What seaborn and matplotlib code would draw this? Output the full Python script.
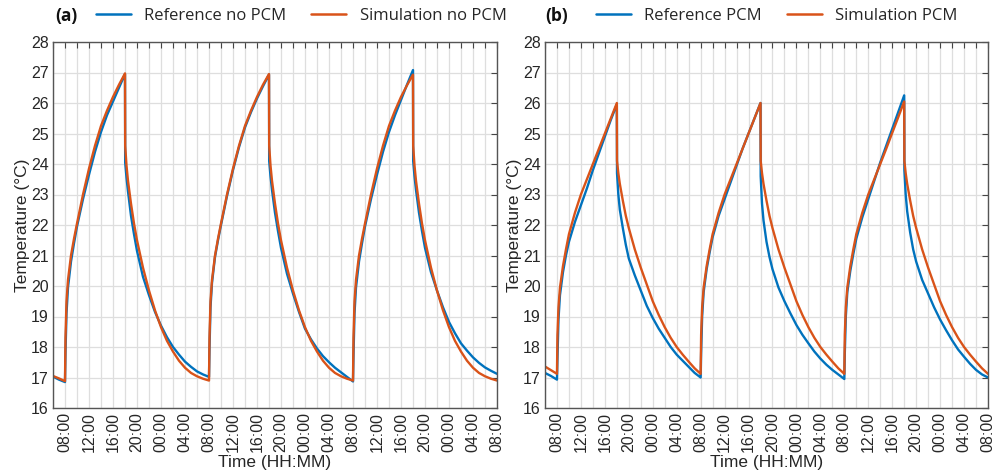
import matplotlib
matplotlib.use("Agg")
import matplotlib.pyplot as plt
import seaborn as sns
import pandas as pd
from matplotlib.ticker import MultipleLocator, FuncFormatter
from matplotlib.lines import Line2D

# hours since 06:00 of day 1
TIME_H = [0, 1, 2,
          2.08, 2.25, 2.5, 3, 3.5, 4, 5, 6, 7, 8, 9, 10, 11, 12,
          12.03, 12.25, 12.5, 13, 13.5, 14, 15, 16, 17, 18, 19, 20, 21, 22, 23, 24, 25, 26,
          26.08, 26.25, 26.5, 27, 27.5, 28, 29, 30, 31, 32, 33, 34, 35, 36,
          36.03, 36.25, 36.5, 37, 37.5, 38, 39, 40, 41, 42, 43, 44, 45, 46, 47, 48, 49, 50,
          50.08, 50.25, 50.5, 51, 51.5, 52, 53, 54, 55, 56, 57, 58, 59, 60,
          60.03, 60.25, 60.5, 61, 61.5, 62, 63, 64, 65, 66, 67, 68, 69, 70, 71, 72, 73, 74]

# (a) no PCM
REF_NO_PCM = [17.03, 16.93, 16.85,
              17.8, 19.1, 19.95, 20.8, 21.4, 21.95, 22.85, 23.65, 24.4, 25.05, 25.6, 26.05, 26.5, 26.95,
              24.05, 23.55, 23.1, 22.3, 21.7, 21.15, 20.3, 19.7, 19.15, 18.7, 18.32, 18.0, 17.75, 17.52, 17.35, 17.2, 17.1, 17.02,
              17.9, 19.3, 20.1, 20.95, 21.5, 22.0, 22.95, 23.8, 24.55, 25.2, 25.7, 26.15, 26.55, 26.93,
              24.1, 23.6, 23.15, 22.4, 21.8, 21.25, 20.4, 19.75, 19.15, 18.6, 18.25, 17.95, 17.7, 17.5, 17.32, 17.17, 17.02, 16.87,
              17.7, 19.1, 19.95, 20.8, 21.4, 21.95, 22.85, 23.65, 24.4, 25.05, 25.6, 26.1, 26.6, 27.08,
              24.1, 23.6, 23.15, 22.4, 21.8, 21.25, 20.45, 19.85, 19.3, 18.82, 18.45, 18.12, 17.88, 17.66, 17.48, 17.33, 17.22, 17.12]
SIM_NO_PCM = [17.05, 16.97, 16.88,
              18.3, 19.5, 20.2, 21.0, 21.55, 22.05, 23.0, 23.85, 24.6, 25.25, 25.75, 26.2, 26.6, 26.97,
              24.6, 23.95, 23.45, 22.7, 22.05, 21.5, 20.6, 19.85, 19.2, 18.65, 18.2, 17.85, 17.55, 17.32, 17.15, 17.04, 16.96, 16.9,
              18.3, 19.5, 20.2, 21.0, 21.55, 22.05, 23.0, 23.85, 24.6, 25.25, 25.75, 26.2, 26.6, 26.95,
              24.6, 23.95, 23.45, 22.7, 22.05, 21.5, 20.6, 19.85, 19.2, 18.65, 18.2, 17.85, 17.55, 17.32, 17.15, 17.04, 16.96, 16.9,
              18.3, 19.5, 20.2, 21.0, 21.55, 22.05, 23.0, 23.85, 24.6, 25.25, 25.75, 26.2, 26.58, 26.93,
              24.6, 23.95, 23.45, 22.7, 22.05, 21.5, 20.6, 19.85, 19.2, 18.65, 18.2, 17.85, 17.55, 17.32, 17.15, 17.04, 16.96, 16.9]

# (b) PCM
REF_PCM = [17.15, 17.05, 16.93,
           17.6, 18.9, 19.7, 20.45, 21.0, 21.45, 22.1, 22.65, 23.2, 23.8, 24.35, 24.9, 25.45, 25.95,
           23.7, 23.0, 22.5, 21.9, 21.35, 20.9, 20.35, 19.85, 19.35, 18.95, 18.6, 18.3, 18.0, 17.75, 17.55, 17.35, 17.15, 17.0,
           17.8, 19.0, 19.8, 20.55, 21.1, 21.6, 22.3, 22.85, 23.4, 23.95, 24.5, 25.0, 25.5, 26.0,
           23.6, 22.7, 22.15, 21.45, 20.95, 20.55, 19.95, 19.5, 19.1, 18.72, 18.4, 18.12, 17.85, 17.62, 17.42, 17.25, 17.1, 16.95,
           17.8, 19.0, 19.8, 20.5, 21.05, 21.55, 22.25, 22.85, 23.45, 24.05, 24.6, 25.15, 25.7, 26.25,
           23.8, 23.0, 22.45, 21.75, 21.2, 20.8, 20.2, 19.75, 19.3, 18.9, 18.55, 18.22, 17.92, 17.68, 17.45, 17.25, 17.1, 17.0]
SIM_PCM = [17.36, 17.24, 17.12,
           18.4, 19.3, 19.95, 20.65, 21.2, 21.7, 22.4, 23.0, 23.5, 24.0, 24.5, 25.0, 25.5, 26.0,
           24.1, 23.7, 23.35, 22.8, 22.3, 21.9, 21.2, 20.6, 20.05, 19.5, 19.05, 18.65, 18.3, 18.0, 17.75, 17.52, 17.3, 17.12,
           18.4, 19.3, 19.95, 20.65, 21.2, 21.7, 22.4, 23.0, 23.5, 24.0, 24.5, 25.0, 25.5, 26.0,
           24.1, 23.7, 23.35, 22.8, 22.3, 21.9, 21.2, 20.6, 20.05, 19.5, 19.05, 18.65, 18.3, 18.0, 17.75, 17.52, 17.3, 17.12,
           18.4, 19.3, 19.95, 20.65, 21.2, 21.7, 22.4, 23.0, 23.5, 24.0, 24.5, 25.02, 25.53, 26.05,
           24.1, 23.7, 23.35, 22.8, 22.3, 21.9, 21.2, 20.6, 20.05, 19.5, 19.05, 18.65, 18.3, 18.0, 17.75, 17.52, 17.3, 17.12]

PANELS = [
    ("(a)", "Reference no PCM", REF_NO_PCM, "Simulation no PCM", SIM_NO_PCM),
    ("(b)", "Reference PCM", REF_PCM, "Simulation PCM", SIM_PCM),
]
BLUE = "#0072BD"
ORANGE = "#D95319"

sns.set_theme(style="white")
plt.rcParams["font.family"] = ["Liberation Sans", "DejaVu Sans"]

W, H = 1002, 470
fig = plt.figure(figsize=(W / 100, H / 100), dpi=100)
axes_px = [(53, 444), (545, 443)]
legend_px = [(55, 96), (545, 596)]


def fmt(v, pos):
    iv = int(round(v))
    if (iv - 2) % 4 == 0:
        return f"{(iv + 6) % 24:02d}:00"
    return ""


for (tag, ref_lab, ref, sim_lab, sim), (x0, w), (tx, lx) in zip(PANELS, axes_px, legend_px):
    ax = fig.add_axes([x0 / W, 1 - 408 / H, w / W, 366 / H])
    df = pd.DataFrame({
        "t": TIME_H + TIME_H,
        "T": ref + sim,
        "series": [ref_lab] * len(ref) + [sim_lab] * len(sim),
    })
    sns.lineplot(data=df, x="t", y="T", hue="series",
                 palette={ref_lab: BLUE, sim_lab: ORANGE},
                 ax=ax, legend=False, linewidth=1.7, errorbar=None)
    ax.set_xlim(0, 74)
    ax.set_ylim(16, 28)
    ax.yaxis.set_major_locator(MultipleLocator(1))
    ax.xaxis.set_major_locator(MultipleLocator(2))
    ax.xaxis.set_major_formatter(FuncFormatter(fmt))
    ax.grid(True, color="#dedede", linewidth=0.9)
    ax.set_axisbelow(True)
    ax.tick_params(direction="in", top=True, right=True, length=4, width=0.8,
                   labelsize=11.5, colors="#444444", labelcolor="#262626", pad=3)
    for lab in ax.get_xticklabels():
        lab.set_rotation(90)
    for s in ax.spines.values():
        s.set_color("#555555")
        s.set_linewidth(1.0)
    ax.set_xlabel("Time (HH:MM)", fontsize=12.5, color="#262626", labelpad=2)
    ax.set_ylabel("Temperature (°C)", fontsize=12.5, color="#262626", labelpad=1)

    fig.text(tx / W, 1 - 16 / H, tag, fontsize=12.5, fontweight="bold",
             family=["Open Sans", "DejaVu Sans"], va="center", ha="left", color="#111111")
    handles = [Line2D([], [], color=BLUE, lw=1.8), Line2D([], [], color=ORANGE, lw=1.8)]
    fig.legend(handles, [ref_lab, sim_lab], loc="center left",
               bbox_to_anchor=(lx / W, 1 - 16 / H), ncol=2, frameon=False,
               handlelength=2.1, handletextpad=0.8, columnspacing=1.5,
               borderpad=0, borderaxespad=0,
               prop={"family": ["Open Sans", "DejaVu Sans"], "size": 12})

fig.savefig("out.png", dpi=100)
